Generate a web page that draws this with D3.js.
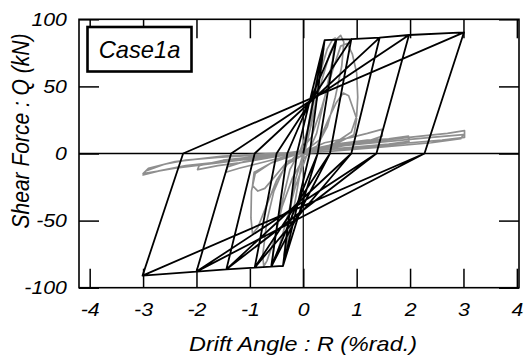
<!DOCTYPE html>
<html>
<head>
<meta charset="utf-8">
<script src="https://cdn.jsdelivr.net/npm/d3@7"></script>
<style>
  body { margin: 0; background: #fff; }
  text { font-family: "Liberation Sans", Arial, sans-serif; font-style: italic; fill: #000; }
</style>
</head>
<body>
<svg id="chart" width="530" height="360"></svg>
<script>
// tick values
var xTicks = [-4, -3, -2, -1, 0, 1, 2, 3, 4];
var yTicks = [-100, -50, 0, 50, 100];

// analysis (black) - drift angle %rad. / shear force kN, vertex by vertex
var modelR = [0, 0.40, 0.12, -0.38, -0.12, 0.40, 0.12, -0.38, -0.12,
  0.40, 0.62, 0.27, -0.38, -0.60, -0.30, 0.62, 0.27, -0.60, -0.30,
  0.62, 0.90, 0.50, -0.60, -0.91, -0.50, 0.90, 0.50, -0.91, -0.50,
  0.90, 1.43, 0.90, -0.91, -1.44, -0.91, 1.43, 0.90, -1.44, -0.91,
  1.43, 1.98, 1.37, -1.44, -2.00, -1.35, 1.98, 1.37, -2.00, -1.35,
  1.98, 3.01, 2.27, -2.00, -3.01, -2.25, 3.01, 2.27, -3.01, -2.25];
var modelQ = [0, 84.5, 0, -83.8, 0, 84.5, 0, -83.8, 0,
  84.5, 84.8, 0, -83.8, -84.3, 0, 84.8, 0, -84.3, 0,
  84.8, 85.3, 0, -84.3, -85.0, 0, 85.3, 0, -85.0, 0,
  85.3, 86.3, 0, -85.0, -86.3, 0, 86.3, 0, -86.3, 0,
  86.3, 88.3, 0, -86.3, -88.0, 0, 88.3, 0, -88.0, 0,
  88.3, 90.3, 0, -88.0, -91.0, 0, 90.3, 0, -91.0, 0];

// experiment (gray)
var testR = [0, 0.1, 0.2, 0.3, 0.38, 0.32, 0.2, 0.05, -0.05, -0.15, -0.28, -0.36, -0.3, -0.15, 0,
  0.15, 0.3, 0.45, 0.55, 0.6, 0.55, 0.42, 0.25, 0.05, -0.15, -0.35, -0.5, -0.58, -0.55, -0.42, -0.25, -0.05,
  0.15, 0.35, 0.5, 0.62, 0.7, 0.76, 0.72, 0.6, 0.45, 0.25, 0, -0.2, -0.4, -0.55, -0.68, -0.74, -0.76, -0.68, -0.55, -0.35, -0.1,
  0.15, 0.35, 0.55, 0.7, 0.82, 0.92, 1.0, 1.02, 1.0, 0.9, 0.6, 0.3, 0, -0.3, -0.5, -0.7, -0.85, -0.95, -0.98, -0.97, -0.9, -0.6, -0.3, 0,
  0.3, 0.5, 0.62, 0.75, 0.85, 0.92, 1.0, 0.95, 0.6, 0.3, 0, -0.3, -0.55, -0.72, -0.85, -0.95, -0.92, -0.6, -0.3, 0,
  0.4, 0.9, 1.2, 1.47, 1.48, 1.2, 0.8, 0.3, 0, -0.4, -0.9, -1.2, -1.45, -1.42, -1.1, -0.6, 0,
  0.6, 1.2, 1.6, 1.97, 1.98, 1.6, 1.0, 0.4, 0, -0.6, -1.2, -1.6, -1.98, -1.95, -1.5, -0.8, 0,
  0.8, 1.5, 2.2, 2.7, 3.02, 3.02, 2.6, 2.0, 1.2, 0.5, 0, -0.8, -1.5, -2.2, -2.7, -3.0, -2.95, -2.6, -2.2, -1.6, -0.8, 0,
  0.8, 1.6, 2.4, 3.0, 2.95, 2.4, 1.5, 0.6, 0, -0.8, -1.6, -2.4, -3.0, -2.9, -2.4, -1.5, -0.6, 0];
var testQ = [0, 22, 45, 65, 78, 60, 30, 5, -12, -35, -62, -76, -55, -20, 0,
  30, 58, 78, 85, 86, 70, 45, 15, -3, -25, -55, -76, -83, -68, -40, -12, 3,
  25, 55, 75, 85, 88, 83, 65, 42, 20, 5, -4, -18, -40, -65, -80, -84, -76, -50, -28, -10, 0,
  12, 35, 62, 80, 82, 74, 60, 42, 28, 16, 8, 3, -1, -8, -20, -40, -55, -60, -48, -28, -15, -7, -2, 1,
  10, 28, 38, 45, 43, 35, 26, 14, 7, 3, -1, -6, -18, -26, -28, -24, -14, -7, -3, 1,
  8, 12, 15, 18, 13, 9, 6, 3, 1, -3, -8, -11, -14, -10, -6, -2, 2,
  7, 10, 11, 13, 9, 7, 5, 3, 1, -3, -7, -9, -12, -9, -5, -2, 2,
  7, 10, 13, 15, 17, 12, 10, 8, 5, 3, 1, -3, -6, -9, -13, -16, -13, -8, -5, -3, -1, 1,
  6, 9, 12, 14, 11, 8, 5, 2, 0, -3, -7, -11, -15, -11, -6, -2, 0, 1];

var legendLabel = "Case1a";
var xTitle = "Drift Angle : R (%rad.)";
var yTitle = "Shear Force : Q (kN)";

const dims = { left: 79, right: 519, top: 19.3, bottom: 287.7 };
const stretch = 1.15; // text in the source is a bit wide

var svg = d3.select("#chart");

var xScale = d3.scaleLinear().domain([-4.2, 4.04]).range([dims.left, dims.right]);
var yScale = d3.scaleLinear().domain([-100, 100]).range([dims.bottom, dims.top]);

var line = d3.line()
  .x((d) => xScale(d[0]))
  .y((d) => yScale(d[1]));

var testPts = testR.map((r, i) => [r, testQ[i]]);
var modelPts = modelR.map((r, i) => [r, modelQ[i]]);

// zero lines
svg.append("line")
  .attr("x1", dims.left).attr("x2", dims.right)
  .attr("y1", yScale(0)).attr("y2", yScale(0))
  .attr("stroke", "#000").attr("stroke-width", 1.4);
svg.append("line")
  .attr("x1", xScale(0)).attr("x2", xScale(0))
  .attr("y1", dims.top).attr("y2", dims.bottom)
  .attr("stroke", "#000").attr("stroke-width", 1.2);

// experiment curve
svg.append("path")
  .datum(testPts)
  .attr("d", line)
  .attr("fill", "none")
  .attr("stroke", "#8f8f8f")
  .attr("stroke-width", 1.7)
  .attr("stroke-linejoin", "round");

// analysis curve
svg.append("path")
  .datum(modelPts)
  .attr("d", line)
  .attr("fill", "none")
  .attr("stroke", "#000")
  .attr("stroke-width", 1.8)
  .attr("stroke-linejoin", "round");

// axes, ticks pointing inward
function styleAxis(g) {
  g.select(".domain").remove();
  g.selectAll(".tick line").attr("stroke", "#000").attr("stroke-width", 1.5);
  g.selectAll("text")
    .attr("fill", "#000")
    .style("font-size", "18.5px")
    .style("font-style", "italic")
    .attr("transform", "scale(" + stretch + ",1)");
}

svg.append("g")
  .attr("transform", "translate(0," + dims.bottom + ")")
  .call(d3.axisBottom(xScale).tickValues(xTicks).tickSize(-19).tickPadding(15)
    .tickFormat((d) => String(d)))
  .call(styleAxis);

svg.append("g")
  .attr("transform", "translate(0," + dims.top + ")")
  .call(d3.axisTop(xScale).tickValues(xTicks).tickSize(-19).tickFormat(""))
  .call(styleAxis);

svg.append("g")
  .attr("transform", "translate(" + dims.left + ",0)")
  .call(d3.axisLeft(yScale).tickValues(yTicks).tickSize(-20).tickPadding(10.5)
    .tickFormat((d) => String(d)))
  .call(styleAxis);

svg.append("g")
  .attr("transform", "translate(" + dims.right + ",0)")
  .call(d3.axisRight(yScale).tickValues(yTicks).tickSize(-20).tickFormat(""))
  .call(styleAxis);

// frame
svg.append("rect")
  .attr("x", dims.left).attr("y", dims.top)
  .attr("width", dims.right - dims.left)
  .attr("height", dims.bottom - dims.top)
  .attr("fill", "none")
  .attr("stroke", "#000")
  .attr("stroke-width", 1.6);

// axis titles
svg.append("text")
  .attr("transform", "translate(303," + 350.7 + ") scale(1.17,1)")
  .attr("text-anchor", "middle")
  .style("font-size", "20px")
  .text(xTitle);

svg.append("text")
  .attr("transform", "translate(29.3,131) scale(1.16,1) rotate(-90)")
  .attr("text-anchor", "middle")
  .style("font-size", "21px")
  .text(yTitle);

// legend box
svg.append("rect")
  .attr("x", 87.5).attr("y", 27)
  .attr("width", 104).attr("height", 44.5)
  .attr("fill", "#fff")
  .attr("stroke", "#000")
  .attr("stroke-width", 2.6);

svg.append("text")
  .attr("transform", "translate(139.5,58.3) scale(1.03,1)")
  .attr("text-anchor", "middle")
  .style("font-size", "23px")
  .text(legendLabel);
</script>
</body>
</html>
